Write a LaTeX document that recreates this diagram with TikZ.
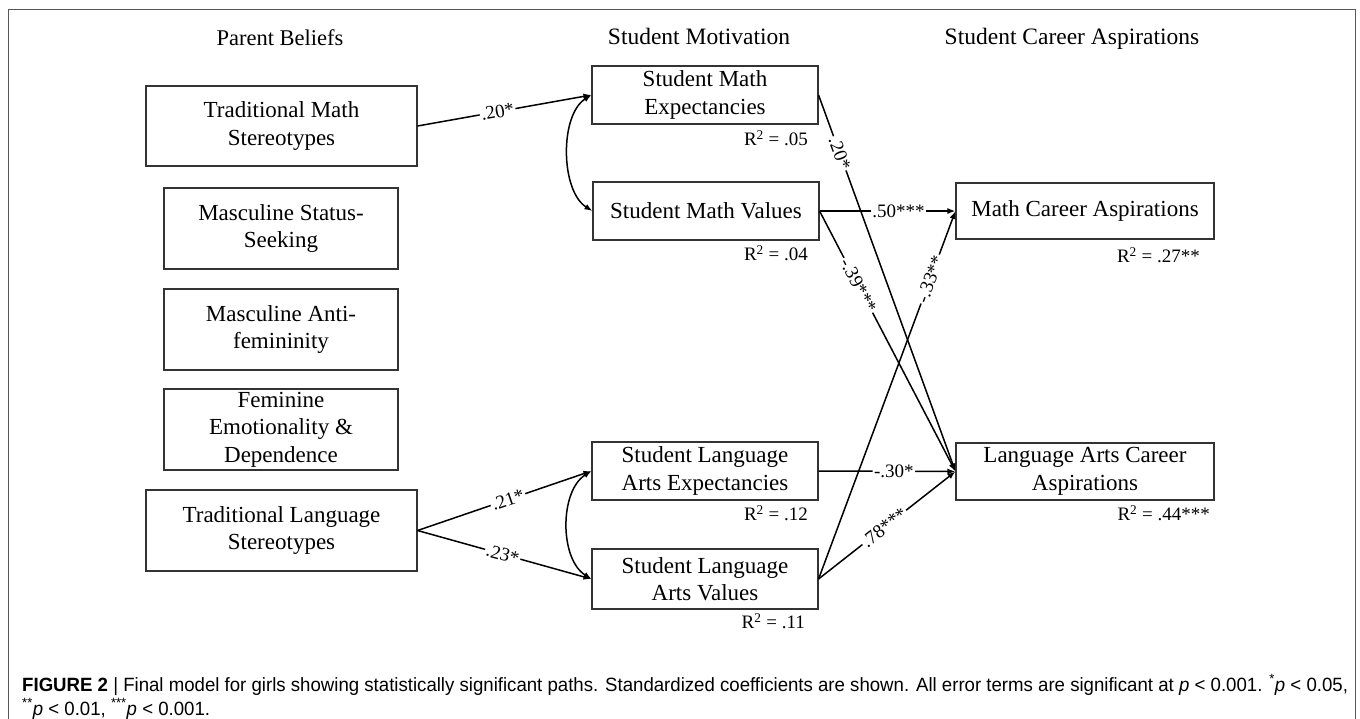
\documentclass[tikz,border=0pt]{standalone}
\usepackage{fontspec}
\setmainfont{Liberation Serif}
\newfontfamily\capfont{Liberation Sans}[FakeStretch=0.97]
\usetikzlibrary{arrows.meta}
\tikzset{
  box/.style 2 args={draw=black!80, line width=1.1pt, rectangle, inner sep=0pt,
    minimum width=#1pt, minimum height=#2pt, align=center,
    font=\fontsize{23}{27.5}\selectfont},
  head/.style={font=\fontsize{23.5}{27}\selectfont},
  rsq/.style={anchor=east, font=\fontsize{19}{22}\selectfont, inner sep=0pt},
  lab/.style={fill=white, inner sep=1.5pt, sloped, font=\fontsize{19}{22}\selectfont},
  arr/.style={-{Latex[length=8pt,width=6pt]}, line width=1.5pt},
  corr/.style={{Latex[length=8pt,width=6pt]}-{Latex[length=8pt,width=6pt]}, line width=1.5pt},
  captext/.style={anchor=west, inner sep=0pt, font=\capfont\fontsize{19.2}{22}\selectfont},
}
\begin{document}
\begin{tikzpicture}[x=1pt,y=-1pt]
\fill[white] (0,0) rectangle (1360,718);
\useasboundingbox (0,0) rectangle (1360,718);
\draw[black!65, line width=1pt] (8,720) -- (8,9) -- (1355,9) -- (1355,720);

% headers
\node[head, font=\fontsize{22.5}{26}\selectfont] (hpb) at (280,38) {Parent Beliefs};
\node[head] (hsm) at (699,36) {Student Motivation};
\node[head] (hsc) at (1072,39) {Student Career Aspirations};

% parent beliefs
\node[box={271}{80}] (tms) at (281.5,126) {Traditional Math\\Stereotypes};
\node[box={234}{81}] (mss) at (281,228.5) {Masculine Status-\\Seeking};
\node[box={234}{81}] (maf) at (281,329.5) {Masculine Anti-\\femininity};
\node[box={234}{81}] (fed) at (281,429.5) {Feminine\\Emotionality \&\\Dependence};
\node[box={271}{81}] (tls) at (281.5,530.5) {Traditional Language\\Stereotypes};

% student motivation
\node[box={226}{58}] (sme) at (705,95) {Student Math\\Expectancies};
\node[box={226}{58}] (smv) at (706,211) {Student Math Values};
\node[box={226}{58}] (slae) at (705,471) {Student Language\\Arts Expectancies};
\node[box={226}{60}] (slav) at (705,579) {Student Language\\Arts Values};

% career aspirations
\node[box={258}{56}] (mca) at (1085,211) {Math Career Aspirations};
\node[box={258}{57}] (laca) at (1085,471.5) {Language Arts Career\\Aspirations};

% R squared
\node[rsq] (r1) at (808,138) {R\textsuperscript{2} = .05};
\node[rsq] (r2) at (808,253) {R\textsuperscript{2} = .04};
\node[rsq] (r3) at (808,513) {R\textsuperscript{2} = .12};
\node[rsq] (r4) at (805,621) {R\textsuperscript{2} = .11};
\node[rsq] (r5) at (1200,255) {R\textsuperscript{2} = .27**};
\node[rsq] (r6) at (1210,513) {R\textsuperscript{2} = .44***};

% paths
\draw[arr] (tms.east) -- node[lab, pos=0.46] {.20*} (sme.west);
\draw[arr] (tls.east) -- node[lab, pos=0.52] {.21*} (slae.west);
\draw[arr] (tls.east) -- node[lab, pos=0.49] {.23*} (slav.west);
\draw[corr] (sme.west) .. controls +(-32,20) and +(-32,-20) .. (smv.west);
\draw[corr] (slae.west) .. controls +(-32,20) and +(-32,-20) .. (slav.west);

\draw[arr] (sme.east) -- node[lab, pos=0.155] {.20*} (laca.west);
\draw[arr] (smv.east) -- node[lab, pos=0.58] {.50***} (mca.west);
\draw[arr] (smv.east) -- node[lab, pos=0.285] {-.39***} (laca.west);
\draw[arr] (slav.east) -- node[lab, pos=0.815] {-.33**} (mca.west);
\draw[arr] (slae.east) -- node[lab, pos=0.55] {-.30*} (laca.west);
\draw[arr] (slav.east) -- node[lab, pos=0.48] {.78***} (laca.west);

% caption
\node[captext] (cap1) at (22,685)
  {\textbf{FIGURE 2} | Final model for girls showing statistically significant paths. Standardized coefficients are shown. All error terms are significant at \textit{p} < 0.001. \textsuperscript{*}\textit{p} < 0.05,};
\node[captext] (cap2) at (22,709)
  {\textsuperscript{**}\textit{p} < 0.01, \textsuperscript{***}\textit{p} < 0.001.};
\end{tikzpicture}
\end{document}
